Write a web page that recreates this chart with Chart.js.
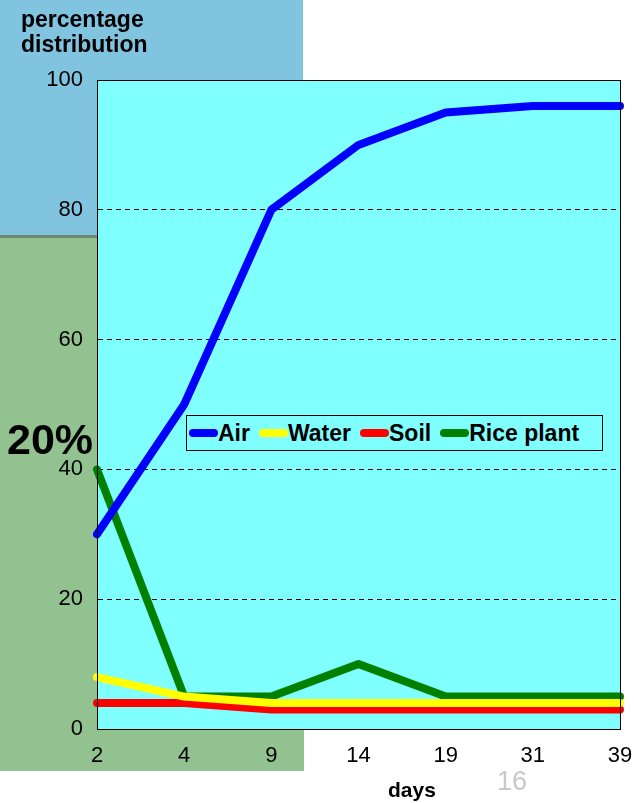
<!DOCTYPE html>
<html>
<head>
<meta charset="utf-8">
<script src="https://cdn.jsdelivr.net/npm/chart.js@4"></script>
<style>
  body { margin: 0; width: 634px; height: 803px; position: relative; background: #fff; font-family: "Liberation Sans", Arial, sans-serif; overflow: hidden; }
  #bgBlue { position: absolute; left: 0; top: 0; width: 303px; height: 235px; background: #80c4e0; }
  #bgGreen { position: absolute; left: 0; top: 235px; width: 304px; height: 536px; background: #91c28f; border-top: 3px solid #6e8a74; box-sizing: border-box; }
  #chartWrap { position: absolute; left: 0; top: 0; width: 634px; height: 803px; }
  .txt { position: absolute; font-weight: bold; color: #000; }
  #ylab { left: 21px; top: 7px; font-size: 23px; line-height: 25px; }
  #pct { left: 7px; top: 415px; font-size: 43px; }
  #days { left: 388px; top: 778px; font-size: 21px; }
  #page { position: absolute; left: 497px; top: 766px; font-size: 27px; color: #c8c8c8; }
  #legend { position: absolute; left: 186px; top: 415px; width: 417px; height: 36px; border: 1px solid #000; background: #80ffff; display: flex; align-items: center; padding-left: 2px; box-sizing: border-box; }
  #legend .item { display: flex; align-items: center; font-weight: bold; font-size: 23px; margin-right: 9px; }
  #legend .swatch { width: 29px; height: 8px; border-radius: 4px; }
</style>
</head>
<body>
<div id="bgBlue"></div>
<div id="bgGreen"></div>
<div id="chartWrap"><canvas id="grafico" width="634" height="803"></canvas></div>
<div class="txt" id="ylab">percentage<br>distribution</div>
<div class="txt" id="pct">20%</div>
<div class="txt" id="days">days</div>
<div id="page">16</div>
<div id="legend"></div>
<script>
// Datos
const dias = ["2", "4", "9", "14", "19", "31", "39"];
const aire = [30, 50, 80, 90, 95, 96, 96];
const agua = [8, 5, 4, 4, 4, 4, 4];
const suelo = [4, 4, 3, 3, 3, 3, 3];
const arroz = [40, 5, 5, 10, 5, 5, 5];

const series = [
  { label: "Air", data: aire, color: "#0000ff", order: 0 },
  { label: "Water", data: agua, color: "#ffff00", order: 1 },
  { label: "Soil", data: suelo, color: "#ff0000", order: 3 },
  { label: "Rice plant", data: arroz, color: "#008000", order: 2 },
];

// Leyenda dentro del área
const legend = document.getElementById("legend");
series.forEach((s) => {
  const item = document.createElement("div");
  item.className = "item";
  item.innerHTML = `<span class="swatch" style="background:${s.color}"></span>${s.label}`;
  legend.appendChild(item);
});

// Fondo cyan y borde del área de trazado
const fondoArea = {
  id: "fondoArea",
  beforeDraw(chart) {
    const { ctx, chartArea: a } = chart;
    ctx.save();
    ctx.fillStyle = "#80ffff";
    ctx.fillRect(a.left, a.top, a.right - a.left, a.bottom - a.top);
    ctx.restore();
  },
  afterDatasetsDraw(chart) {
    const { ctx, chartArea: a } = chart;
    ctx.save();
    ctx.strokeStyle = "#000";
    ctx.lineWidth = 1;
    ctx.strokeRect(a.left + 0.5, a.top + 0.5, a.right - a.left, a.bottom - a.top);
    ctx.restore();
  },
};

const ctx = document.getElementById("grafico").getContext("2d");
new Chart(ctx, {
  type: "line",
  data: {
    labels: dias,
    datasets: series.map((s) => ({
      label: s.label,
      data: s.data,
      borderColor: s.color,
      backgroundColor: s.color,
      borderWidth: 8,
      borderCapStyle: "round",
      borderJoinStyle: "round",
      pointRadius: 0,
      tension: 0,
      order: s.order,
    })),
  },
  options: {
    responsive: false,
    animation: false,
    layout: { padding: { top: 80, right: 14, left: 0, bottom: 0 } },
    plugins: { legend: { display: false }, tooltip: { enabled: false } },
    scales: {
      x: {
        offset: false,
        grid: { display: false },
        border: { display: true, color: "#000" },
        ticks: { color: "#000", font: { family: "Liberation Sans", size: 22 }, padding: 6, maxRotation: 0 },
        afterFit: (scale) => {
          scale.height = 74;
          scale.paddingLeft = 0;
          scale.paddingRight = 0;
        },
      },
      y: {
        min: 0,
        max: 100,
        ticks: { stepSize: 20, color: "#000", font: { family: "Liberation Sans", size: 22 }, padding: 14 },
        grid: {
          color: (c) => (c.tick && (c.tick.value === 0 || c.tick.value === 100) ? "rgba(0,0,0,0)" : "#000"),
          lineWidth: 1,
          drawTicks: false,
        },
        border: { display: true, color: "#000", dash: [5, 4] },
        afterFit: (scale) => {
          scale.width = 97;
          scale.paddingTop = 0;
          scale.paddingBottom = 0;
        },
      },
    },
  },
  plugins: [fondoArea],
});
</script>
</body>
</html>
